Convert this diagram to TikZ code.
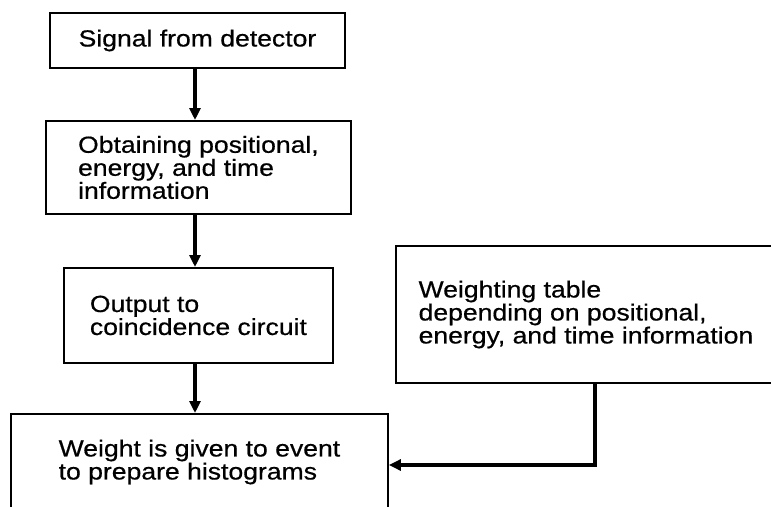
\documentclass[tikz,border=0pt]{standalone}
\usepackage{fontspec}
\setmainfont{Liberation Sans}[FakeStretch=1.14, FakeBold=0.6]
\usetikzlibrary{arrows.meta,calc}
\begin{document}
\begin{tikzpicture}[x=1pt,y=-1pt,
  every node/.style={font=\fontsize{23.3}{23}\selectfont},
  box/.style={draw=black, line width=1.9pt, rectangle, anchor=north west, inner sep=2pt, align=left},
  arr/.style={draw=black, line width=3.2pt, -{Triangle[length=12pt,width=11pt]}}]
\useasboundingbox (0,0) rectangle (771,506);
% boxes
\node[box, minimum width=295pt, minimum height=55pt, align=center] (b1) at (49,12) {Signal from detector};
\node[box, minimum width=305pt, minimum height=93pt] (b2) at (45,120) {Obtaining positional,\\energy, and time\\information};
\node[box, minimum width=269pt, minimum height=95pt] (b3) at (63,267) {Output to\\coincidence circuit};
\node[box, minimum width=377pt, minimum height=96pt] (b4) at (10,413) {Weight is given to event\\to prepare histograms};
\node[box, minimum width=380pt, minimum height=137pt] (b5) at (395,245) {Weighting table\\depending on positional,\\energy, and time information};
% connectors
\coordinate (ax) at (195,0);
\coordinate (c) at (595,465);
\draw[arr] (b1.south -| ax) -- (b2.north -| ax);
\draw[arr] (b2.south -| ax) -- (b3.north -| ax);
\draw[arr] (b3.south -| ax) -- (b4.north -| ax);
\draw[arr] (b5.south -| c) -- (c) -- (c -| b4.east);
\end{tikzpicture}
\end{document}
